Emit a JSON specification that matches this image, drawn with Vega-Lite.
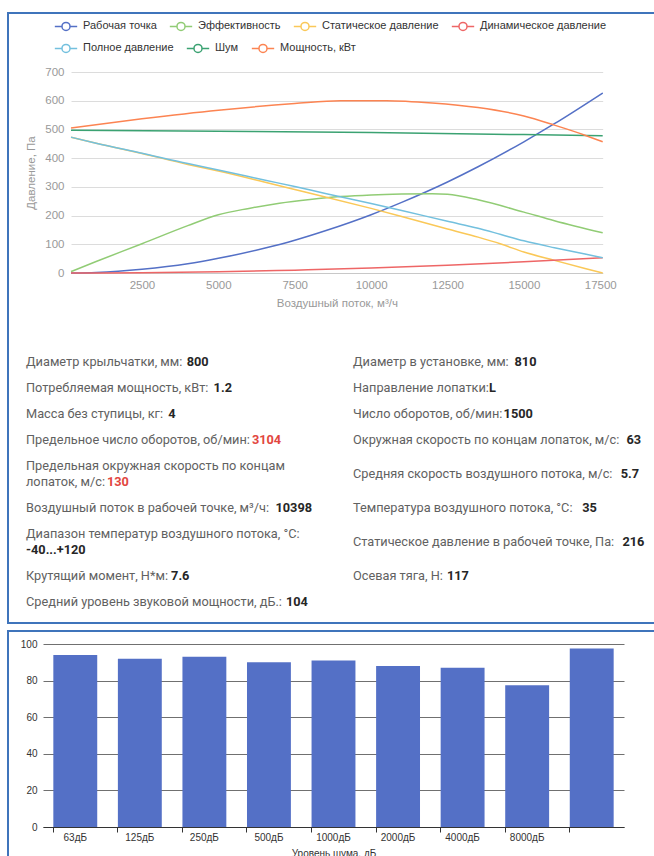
{
  "$schema": "https://vega.github.io/schema/vega-lite/v6.json",
  "padding": {"left": 7, "top": 12, "right": 0, "bottom": 0},
  "background": "white",
  "spacing": 6,
  "config": {
    "view": {"stroke": "#3f74bb", "strokeWidth": 2},
    "font": "Liberation Sans",
    "axis": {"labelFont": "Liberation Sans", "titleFont": "Liberation Sans", "titleFontWeight": "normal"},
    "legend": {"orient": "none", "direction": "horizontal", "title": null, "labelFont": "Liberation Sans", "labelFontSize": 11,
      "labelColor": "#333", "labelOffset": 5,
      "symbolType": "M-1,0H-0.36M0.36,0H1M0.36,0A0.36,0.36,0,1,1,-0.36,0A0.36,0.36,0,1,1,0.36,0Z",
      "symbolSize": 500, "symbolStrokeWidth": 1.5, "symbolFillColor": "#ffffff", "columnPadding": 9}
  },
  "vconcat": [
    {
      "width": 660,
      "height": 610,
      "layer": [
        {
          "data": {"values": [
            {"series": "Рабочая точка", "q": 177, "p": 0},
            {"series": "Рабочая точка", "q": 1000, "p": 2},
            {"series": "Рабочая точка", "q": 2500, "p": 13},
            {"series": "Рабочая точка", "q": 4000, "p": 32},
            {"series": "Рабочая точка", "q": 5000, "p": 51},
            {"series": "Рабочая точка", "q": 6500, "p": 86},
            {"series": "Рабочая точка", "q": 7500, "p": 114},
            {"series": "Рабочая точка", "q": 8500, "p": 147},
            {"series": "Рабочая точка", "q": 10000, "p": 203},
            {"series": "Рабочая точка", "q": 11000, "p": 246},
            {"series": "Рабочая точка", "q": 12500, "p": 317},
            {"series": "Рабочая точка", "q": 13500, "p": 370},
            {"series": "Рабочая точка", "q": 15000, "p": 457},
            {"series": "Рабочая точка", "q": 16000, "p": 520},
            {"series": "Рабочая точка", "q": 17580, "p": 627},
            {"series": "Эффективность", "q": 177, "p": 5},
            {"series": "Эффективность", "q": 1000, "p": 40},
            {"series": "Эффективность", "q": 2500, "p": 102},
            {"series": "Эффективность", "q": 4000, "p": 165},
            {"series": "Эффективность", "q": 5000, "p": 203},
            {"series": "Эффективность", "q": 6000, "p": 225},
            {"series": "Эффективность", "q": 7000, "p": 243},
            {"series": "Эффективность", "q": 8000, "p": 256},
            {"series": "Эффективность", "q": 9000, "p": 266},
            {"series": "Эффективность", "q": 10000, "p": 272},
            {"series": "Эффективность", "q": 11000, "p": 275},
            {"series": "Эффективность", "q": 12000, "p": 276},
            {"series": "Эффективность", "q": 12500, "p": 274},
            {"series": "Эффективность", "q": 13500, "p": 255},
            {"series": "Эффективность", "q": 15000, "p": 212},
            {"series": "Эффективность", "q": 16000, "p": 182},
            {"series": "Эффективность", "q": 17580, "p": 140},
            {"series": "Статическое давление", "q": 177, "p": 473},
            {"series": "Статическое давление", "q": 1000, "p": 452},
            {"series": "Статическое давление", "q": 2500, "p": 416},
            {"series": "Статическое давление", "q": 4000, "p": 378},
            {"series": "Статическое давление", "q": 5000, "p": 355},
            {"series": "Статическое давление", "q": 6500, "p": 317},
            {"series": "Статическое давление", "q": 7500, "p": 291},
            {"series": "Статическое давление", "q": 8500, "p": 265},
            {"series": "Статическое давление", "q": 10000, "p": 225},
            {"series": "Статическое давление", "q": 11000, "p": 197},
            {"series": "Статическое давление", "q": 12500, "p": 153},
            {"series": "Статическое давление", "q": 13500, "p": 125},
            {"series": "Статическое давление", "q": 14250, "p": 101},
            {"series": "Статическое давление", "q": 15000, "p": 73},
            {"series": "Статическое давление", "q": 16000, "p": 44},
            {"series": "Статическое давление", "q": 17000, "p": 16},
            {"series": "Статическое давление", "q": 17580, "p": 0},
            {"series": "Динамическое давление", "q": 177, "p": 0},
            {"series": "Динамическое давление", "q": 2500, "p": 1},
            {"series": "Динамическое давление", "q": 5000, "p": 4},
            {"series": "Динамическое давление", "q": 7500, "p": 10},
            {"series": "Динамическое давление", "q": 10000, "p": 17},
            {"series": "Динамическое давление", "q": 12500, "p": 27},
            {"series": "Динамическое давление", "q": 15000, "p": 39},
            {"series": "Динамическое давление", "q": 17580, "p": 53},
            {"series": "Полное давление", "q": 177, "p": 473},
            {"series": "Полное давление", "q": 1000, "p": 452},
            {"series": "Полное давление", "q": 2500, "p": 417},
            {"series": "Полное давление", "q": 4000, "p": 381},
            {"series": "Полное давление", "q": 5000, "p": 359},
            {"series": "Полное давление", "q": 6500, "p": 324},
            {"series": "Полное давление", "q": 7500, "p": 301},
            {"series": "Полное давление", "q": 8500, "p": 277},
            {"series": "Полное давление", "q": 10000, "p": 242},
            {"series": "Полное давление", "q": 11000, "p": 218},
            {"series": "Полное давление", "q": 12500, "p": 180},
            {"series": "Полное давление", "q": 13500, "p": 156},
            {"series": "Полное давление", "q": 14250, "p": 134},
            {"series": "Полное давление", "q": 15000, "p": 112},
            {"series": "Полное давление", "q": 16000, "p": 88},
            {"series": "Полное давление", "q": 17000, "p": 66},
            {"series": "Полное давление", "q": 17580, "p": 53},
            {"series": "Шум", "q": 177, "p": 497},
            {"series": "Шум", "q": 5000, "p": 494},
            {"series": "Шум", "q": 10000, "p": 489},
            {"series": "Шум", "q": 15000, "p": 482},
            {"series": "Шум", "q": 17580, "p": 478},
            {"series": "Мощность, кВт", "q": 177, "p": 505},
            {"series": "Мощность, кВт", "q": 2500, "p": 537},
            {"series": "Мощность, кВт", "q": 5000, "p": 567},
            {"series": "Мощность, кВт", "q": 7500, "p": 590},
            {"series": "Мощность, кВт", "q": 9000, "p": 600},
            {"series": "Мощность, кВт", "q": 10500, "p": 600},
            {"series": "Мощность, кВт", "q": 12000, "p": 592},
            {"series": "Мощность, кВт", "q": 13500, "p": 576},
            {"series": "Мощность, кВт", "q": 15000, "p": 547},
            {"series": "Мощность, кВт", "q": 16000, "p": 515},
            {"series": "Мощность, кВт", "q": 17000, "p": 480},
            {"series": "Мощность, кВт", "q": 17580, "p": 457}
          ]},
          "layer": [
            {
              "transform": [{"filter": {"field": "series", "oneOf": ["Рабочая точка", "Эффективность", "Статическое давление", "Динамическое давление"]}}],
              "mark": {"type": "line", "interpolate": "monotone", "strokeWidth": 1.5},
              "encoding": {
                "x": {"field": "q", "type": "quantitative",
                  "scale": {"domain": [177, 17580], "range": [63, 594.7], "nice": false, "zero": false},
                  "axis": {"offset": -350, "values": [2500, 5000, 7500, 10000, 12500, 15000, 17500], "format": "d", "grid": false, "ticks": false,
                    "domainColor": "#c8c8c8", "labelColor": "#999", "labelFontSize": 11.5, "labelPadding": 6,
                    "title": "Воздушный поток, м³/ч", "titleColor": "#999", "titleFontSize": 11.5, "titlePadding": 7}},
                "y": {"field": "p", "type": "quantitative",
                  "scale": {"domain": [0, 700], "range": [260, 59], "nice": false},
                  "axis": {"offset": -63, "values": [0, 100, 200, 300, 400, 500, 600, 700], "grid": true, "gridColor": "#dcdcdc",
                    "domain": false, "ticks": false, "labelColor": "#999", "labelFontSize": 11.5, "labelPadding": 7,
                    "title": "Давление, Па", "titleColor": "#999", "titleFontSize": 11.5, "titlePadding": 8}},
                "color": {"field": "series", "type": "nominal",
                  "scale": {
                    "domain": ["Рабочая точка", "Эффективность", "Статическое давление", "Динамическое давление"],
                    "range": ["#5470c6", "#91cc75", "#fac858", "#ee6666"]},
                  "legend": {"legendX": 46, "legendY": 1}}
              }
            },
            {
              "transform": [{"filter": {"field": "series", "oneOf": ["Полное давление", "Шум", "Мощность, кВт"]}}],
              "mark": {"type": "line", "interpolate": "monotone", "strokeWidth": 1.5},
              "encoding": {
                "x": {"field": "q", "type": "quantitative"},
                "y": {"field": "p", "type": "quantitative"},
                "color": {"field": "series", "type": "nominal",
                  "scale": {
                    "domain": ["Полное давление", "Шум", "Мощность, кВт"],
                    "range": ["#73c0de", "#3ba272", "#fc8452"]},
                  "legend": {"legendX": 46, "legendY": 23}}
              }
            }
          ],
          "resolve": {"scale": {"color": "independent"}, "legend": {"color": "independent"}}
        },
        {
          "data": {"values": [
            {"col": 0, "row": 1, "label": "Диаметр крыльчатки, мм: ", "value": "800", "kind": "normal"},
            {"col": 0, "row": 2, "label": "Потребляемая мощность, кВт: ", "value": "1.2", "kind": "normal"},
            {"col": 0, "row": 3, "label": "Масса без ступицы, кг: ", "value": "4", "kind": "normal"},
            {"col": 0, "row": 4, "label": "Предельное число оборотов, об/мин: ", "value": "3104", "kind": "limit"},
            {"col": 0, "row": 5, "label": "Предельная окружная скорость по концам\nлопаток, м/с: ", "value": "130", "kind": "limit"},
            {"col": 0, "row": 6, "label": "Воздушный поток в рабочей точке, м³/ч: ", "value": "10398", "kind": "normal"},
            {"col": 0, "row": 7, "label": "Диапазон температур воздушного потока, °С:\n", "value": "-40...+120", "kind": "normal"},
            {"col": 0, "row": 8, "label": "Крутящий момент, Н*м: ", "value": "7.6", "kind": "normal"},
            {"col": 0, "row": 9, "label": "Средний уровень звуковой мощности, дБ.: ", "value": "104", "kind": "normal"},
            {"col": 1, "row": 1, "label": "Диаметр в установке, мм: ", "value": "810", "kind": "normal"},
            {"col": 1, "row": 2, "label": "Направление лопатки: ", "value": "L", "kind": "normal"},
            {"col": 1, "row": 3, "label": "Число оборотов, об/мин: ", "value": "1500", "kind": "normal"},
            {"col": 1, "row": 4, "label": "Окружная скорость по концам лопаток, м/с: ", "value": "63", "kind": "normal"},
            {"col": 1, "row": 5, "label": "Средняя скорость воздушного потока, м/с: ", "value": "5.7", "kind": "normal"},
            {"col": 1, "row": 6, "label": "Температура воздушного потока, °С: ", "value": "35", "kind": "normal"},
            {"col": 1, "row": 7, "label": "Статическое давление в рабочей точке, Па: ", "value": "216", "kind": "normal"},
            {"col": 1, "row": 8, "label": "Осевая тяга, Н: ", "value": "117", "kind": "normal"}
          ]},
          "transform": [
            {"calculate": "split(datum.label, '\\n')", "as": "lines"},
            {"calculate": "length(datum.lines)", "as": "nl"},
            {"joinaggregate": [{"op": "max", "field": "nl", "as": "rl"}], "groupby": ["row"]},
            {"calculate": "datum.rl * 16 + 10", "as": "h"},
            {"window": [{"op": "sum", "field": "h", "as": "cum"}], "sort": [{"field": "row"}], "groupby": ["col"], "frame": [null, 0]},
            {"calculate": "datum.cum - datum.h / 2 - (datum.nl - 1) * 8", "as": "ty"},
            {"calculate": "datum.lines[datum.nl - 1]", "as": "last"},
            {"calculate": "length(datum.last) - length(replace(datum.last, regexp('[жшщыюфмДЖШЩЫЮФМ]', 'g'), ''))", "as": "nw"},
            {"calculate": "length(datum.last) - length(replace(datum.last, regexp('[АБВГЕЁЗИЙКЛНОПРСТУХЦЧЪЬЭЯA-Z]', 'g'), ''))", "as": "nc"},
            {"calculate": "length(datum.last) - length(replace(datum.last, regexp('[ ,.:]', 'g'), ''))", "as": "nn"},
            {"calculate": "length(datum.last) - length(replace(datum.last, regexp('[/*]', 'g'), ''))", "as": "ns"},
            {"calculate": "length(datum.last) - length(replace(datum.last, regexp('[°³]', 'g'), ''))", "as": "nd"},
            {"calculate": "datum.col * 327 + (length(datum.last) > 0 ? -5 + 12.85 * (0.75 * datum.nw + 0.68 * datum.nc + 0.26 * datum.nn + 0.42 * datum.ns + 0.37 * datum.nd + 0.56 * (length(datum.last) - datum.nw - datum.nc - datum.nn - datum.ns - datum.nd)) : 0)", "as": "vx"},
            {"calculate": "datum.col * 327", "as": "lx"},
            {"calculate": "(datum.nl > 1 ? '\\n' : '') + datum.value", "as": "vtext"}
          ],
          "layer": [
            {
              "mark": {"type": "text", "align": "left", "baseline": "middle", "lineBreak": "\n", "lineHeight": 16, "font": "Roboto", "fontSize": 12.75, "color": "#616161"},
              "encoding": {
                "x": {"field": "lx", "type": "quantitative", "scale": {"domain": [0, 1000], "range": [18, 1018]}, "axis": null},
                "y": {"field": "ty", "type": "quantitative", "scale": {"domain": [0, 300], "range": [336, 636]}, "axis": null},
                "text": {"field": "label"}
              }
            },
            {
              "mark": {"type": "text", "align": "left", "baseline": "middle", "lineBreak": "\n", "lineHeight": 16, "font": "Roboto", "fontSize": 12.75, "fontWeight": "bold"},
              "encoding": {
                "x": {"field": "vx", "type": "quantitative"},
                "y": {"field": "ty", "type": "quantitative"},
                "text": {"field": "vtext"},
                "color": {"condition": {"test": "datum.kind === 'limit'", "value": "#e2463f"}, "value": "#262626"}
              }
            }
          ]
        }
      ],
      "resolve": {"scale": {"x": "independent", "y": "independent"}, "axis": {"x": "independent", "y": "independent"}}
    },
    {
      "width": 660,
      "height": 240,
      "data": {"values": [
        {"band": "63дБ", "level": 94},
        {"band": "125дБ", "level": 92},
        {"band": "250дБ", "level": 93},
        {"band": "500дБ", "level": 90},
        {"band": "1000дБ", "level": 91},
        {"band": "2000дБ", "level": 88},
        {"band": "4000дБ", "level": 87},
        {"band": "8000дБ", "level": 77.5},
        {"band": "Общий", "level": 97.5}
      ]},
      "layer": [
        {
          "mark": {"type": "bar", "color": "#5470c6"},
          "encoding": {
            "x": {"field": "band", "type": "nominal", "sort": null,
              "scale": {"range": [35, 616], "paddingInner": 0.32, "paddingOuter": 0.16},
              "axis": {"orient": "bottom", "offset": -44, "labelAngle": 0, "ticks": false, "domain": false,
                "labelExpr": "datum.value === 'Общий' ? '' : datum.value",
                "labelColor": "#333", "labelFontSize": 10, "labelPadding": 5,
                "title": "Уровень шума, дБ", "titleColor": "#333", "titleFontSize": 10, "titlePadding": 6}},
            "y": {"field": "level", "type": "quantitative",
              "scale": {"domain": [0, 100], "range": [196, 13], "nice": false},
              "axis": {"offset": -35, "values": [0, 20, 40, 60, 80, 100], "grid": true, "gridColor": "#707070", "domain": false,
                "ticks": false, "labelColor": "#333", "labelFontSize": 10, "labelPadding": 6, "title": null}}
          }
        },
        {
          "mark": {"type": "bar", "opacity": 0},
          "encoding": {
            "x": {"field": "band", "type": "nominal", "sort": null,
              "axis": {"orient": "bottom", "offset": -44, "labels": false, "bandPosition": 0, "ticks": true, "tickSize": 5,
                "tickColor": "#333", "domain": true, "domainColor": "#333", "title": null}},
            "y": {"field": "level", "type": "quantitative"}
          }
        }
      ],
      "resolve": {"axis": {"x": "independent"}}
    }
  ]
}
